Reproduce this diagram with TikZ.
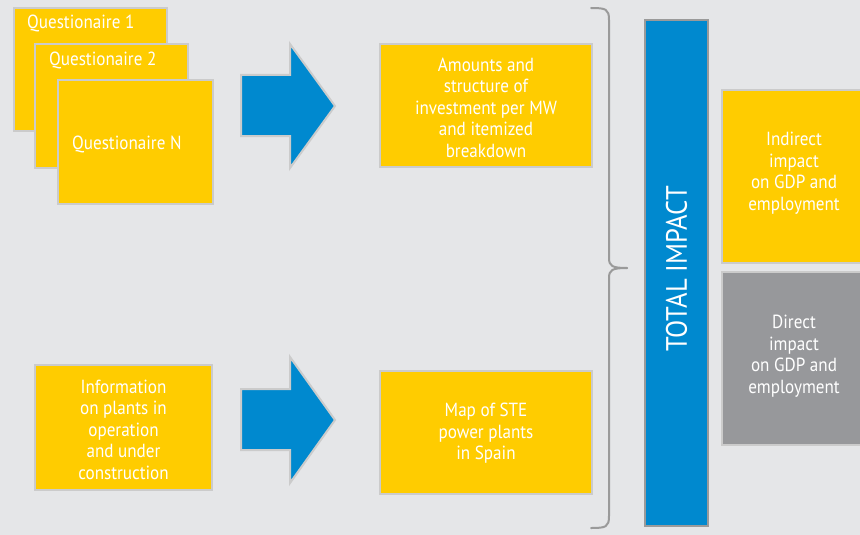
\documentclass[tikz,border=0pt]{standalone}
\usepackage{fontspec}
\setmainfont[FakeStretch=0.9]{PT Sans}
\usetikzlibrary{positioning}
\definecolor{bg}{HTML}{E5E6E8}
\definecolor{ylw}{HTML}{FFCC00}
\definecolor{blu}{HTML}{0089CF}
\definecolor{gry}{HTML}{97989B}
\definecolor{edge}{HTML}{CBCBCB}
\definecolor{baredge}{HTML}{9A9A9A}
\begin{document}
\begin{tikzpicture}[x=1pt,y=-1pt,
  box/.style={draw=edge,line width=2pt,fill=ylw,anchor=north west,inner sep=0pt},
  txt/.style={text=white,font=\fontsize{19}{21.5}\selectfont,align=center,inner sep=0pt},
  blockarrow/.style={draw=edge,line width=2pt,fill=blu,line join=miter}]
\useasboundingbox[fill=bg] (0,0) rectangle (860,535);
% questionnaires
\node[box,minimum width=153pt,minimum height=123pt] (q1) at (13,7) {};
\node[txt,anchor=base west] (q1t) at (27,29) {Questionaire 1};
\node[box,minimum width=153pt,minimum height=124pt] (q2) at (34,43) {};
\node[txt,anchor=base west] (q2t) at (49,66) {Questionaire 2};
\node[box,minimum width=155pt,minimum height=124pt] (qn) at (57,79) {};
\node[txt,anchor=base west] (qnt) at (72,149) {Questionaire N};
% info box
\node[box,minimum width=177pt,minimum height=125pt] (info) at (34,364) {};
\node[txt] (infot) at ([yshift=-2pt]info.center) {Information\\on plants in\\operation\\and under\\construction};
% arrows
\draw[blockarrow] (241,75) -- (290,75) -- (290,44) -- (335,106) -- (290,168) -- (290,136) -- (241,136) -- cycle;
\draw[blockarrow] (241,389) -- (290,389) -- (290,357) -- (335,420) -- (290,483) -- (290,450) -- (241,450) -- cycle;
% result boxes
\node[box,minimum width=212pt,minimum height=123pt] (amt) at (379,43) {};
\node[txt] (amtt) at ([yshift=-2pt]amt.center) {Amounts and\\structure of\\investment per MW\\and itemized\\breakdown};
\node[box,minimum width=212pt,minimum height=123pt] (map) at (379,370) {};
\node[txt] (mapt) at ([yshift=-1pt]map.center) {Map of STE\\power plants\\in Spain};
% brace
\draw[baredge,line width=2pt,line cap=round]
  (591,8) .. controls (606,8) and (609,9) .. (609,20) -- (609,258)
  .. controls (609,266) and (612,268) .. (627,268);
\draw[baredge,line width=2pt,line cap=round]
  (627,268) .. controls (612,268) and (609,270) .. (609,278) -- (609,516)
  .. controls (609,527) and (606,528) .. (591,528);
% total impact bar
\node[draw=baredge,line width=2pt,fill=blu,anchor=north west,minimum width=63pt,minimum height=506pt,inner sep=0pt] (tot) at (644,19) {};
\node[txt,rotate=90,font=\fontsize{29.5}{32}\selectfont] (tott) at ([yshift=4pt]tot.center) {TOTAL IMPACT};
% impact boxes
\node[box,minimum width=150pt,minimum height=173pt] (ind) at (721,89) {};
\node[txt] (indt) at (794,173) {Indirect\\impact\\on GDP and\\employment};
\node[box,fill=gry,minimum width=150pt,minimum height=173pt] (dir) at (721,271) {};
\node[txt] (dirt) at (794,356) {Direct\\impact\\on GDP and\\employment};
\end{tikzpicture}
\end{document}
